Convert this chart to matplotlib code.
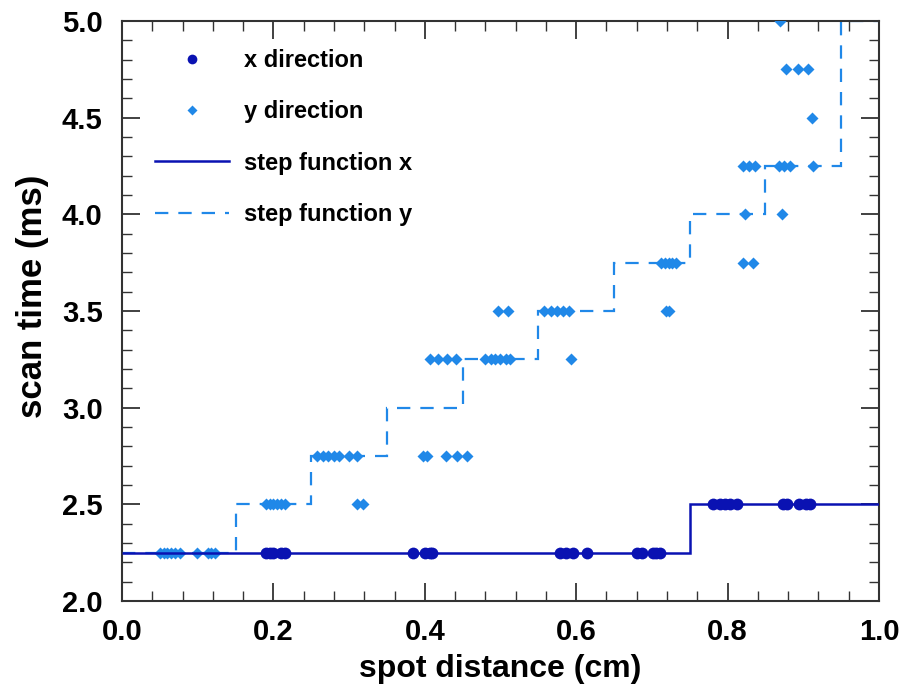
#!/usr/bin/env python3
"""Scan time vs spot distance with step-function fits."""

import matplotlib
matplotlib.use('Agg')
import matplotlib.pyplot as plt
from matplotlib.ticker import MultipleLocator

plt.rcParams.update({
    'font.family': ['Liberation Sans', 'DejaVu Sans'],
    'font.weight': 'bold',
    'axes.labelweight': 'bold',
})

# measured points, x direction
x_dir_dist = [0.19, 0.195, 0.20, 0.21, 0.215,
              0.384, 0.40, 0.407, 0.41,
              0.579, 0.586, 0.596, 0.614,
              0.680, 0.687, 0.701, 0.706, 0.711,
              0.781, 0.790, 0.797, 0.803, 0.812,
              0.873, 0.878, 0.894, 0.903, 0.909]
x_dir_time = [2.25] * 18 + [2.5] * 10

# measured points, y direction
y_dir_dist = [0.050, 0.055, 0.060, 0.065, 0.070, 0.077, 0.099, 0.113, 0.118, 0.123,
              0.190, 0.195, 0.200, 0.205, 0.210, 0.215, 0.310, 0.318,
              0.258, 0.265, 0.272, 0.280, 0.287, 0.300, 0.310, 0.398, 0.403, 0.428, 0.443, 0.456,
              0.407, 0.417, 0.429, 0.441, 0.480, 0.487, 0.493, 0.500, 0.507, 0.513, 0.593,
              0.497, 0.510, 0.558, 0.567, 0.575, 0.583, 0.590, 0.718, 0.722,
              0.712, 0.717, 0.722, 0.727, 0.732, 0.820, 0.834,
              0.823, 0.872,
              0.820, 0.828, 0.836, 0.868, 0.875, 0.882, 0.913,
              0.911,
              0.877, 0.893, 0.906,
              0.869]
y_dir_time = ([2.25] * 10 + [2.5] * 8 + [2.75] * 12 + [3.25] * 11 + [3.5] * 9
              + [3.75] * 7 + [4.0] * 2 + [4.25] * 7 + [4.5] + [4.75] * 3 + [5.0])

# step functions
step_x_edges = [0.0, 0.75, 1.0]
step_x_vals = [2.25, 2.5]
step_y_edges = [0.0, 0.15, 0.25, 0.35, 0.45, 0.55, 0.65, 0.75, 0.85, 0.95, 1.0]
step_y_vals = [2.25, 2.5, 2.75, 3.0, 3.25, 3.5, 3.75, 4.0, 4.25, 5.0]

dark_blue = '#0A12B2'
light_blue = '#2088E8'
dash = (0, (6, 4.5))

fig = plt.figure(figsize=(9.04, 6.91), dpi=100)
ax = fig.add_axes([0.135, 0.1302, 0.8373, 0.8394])

ax.stairs(step_y_vals, step_y_edges, baseline=None, color=light_blue, lw=1.6,
          linestyle=dash, zorder=2)
ax.plot(x_dir_dist, x_dir_time, 'o', color=dark_blue, ms=8.5, mec='none', zorder=5)
ax.plot(y_dir_dist, y_dir_time, 'D', color=light_blue, ms=6, mec='none', zorder=3)
ax.stairs(step_x_vals, step_x_edges, baseline=None, color=dark_blue, lw=1.8, zorder=4)

# legend proxies (order as in the original)
h_x, = ax.plot([], [], 'o', color=dark_blue, ms=7, mec='none')
h_y, = ax.plot([], [], 'D', color=light_blue, ms=5, mec='none')
h_sx, = ax.plot([], [], '-', color=dark_blue, lw=1.8)
h_sy, = ax.plot([], [], color=light_blue, lw=1.6, linestyle=dash)
ax.legend([h_x, h_y, h_sx, h_sy],
          ['x direction', 'y direction', 'step function x', 'step function y'],
          loc='upper left', frameon=False, fontsize=17, handlelength=3.1,
          handletextpad=0.64, labelspacing=1.2, borderaxespad=0, borderpad=0,
          bbox_to_anchor=(0.044, 0.952))

ax.set_xlim(0, 1.0)
ax.set_ylim(2.0, 5.0)
ax.xaxis.set_major_locator(MultipleLocator(0.2))
ax.xaxis.set_minor_locator(MultipleLocator(0.04))
ax.yaxis.set_major_locator(MultipleLocator(0.5))
ax.yaxis.set_minor_locator(MultipleLocator(0.1))
ax.tick_params(which='both', direction='in', top=True, right=True,
               labelsize=21, color='#333333')
ax.tick_params(which='major', length=13, width=1.3)
ax.tick_params(axis='x', which='major', pad=12)
ax.tick_params(axis='y', which='major', pad=14)
ax.tick_params(which='minor', length=7, width=1.0)
for sp in ax.spines.values():
    sp.set_linewidth(1.5)
    sp.set_color('#333333')

ax.set_xlabel('spot distance (cm)', fontsize=23, labelpad=6)
ax.set_ylabel('scan time (ms)', fontsize=25, labelpad=10)
ax.yaxis.set_label_coords(-0.097, 0.525)

fig.savefig('out.png', dpi=100)
